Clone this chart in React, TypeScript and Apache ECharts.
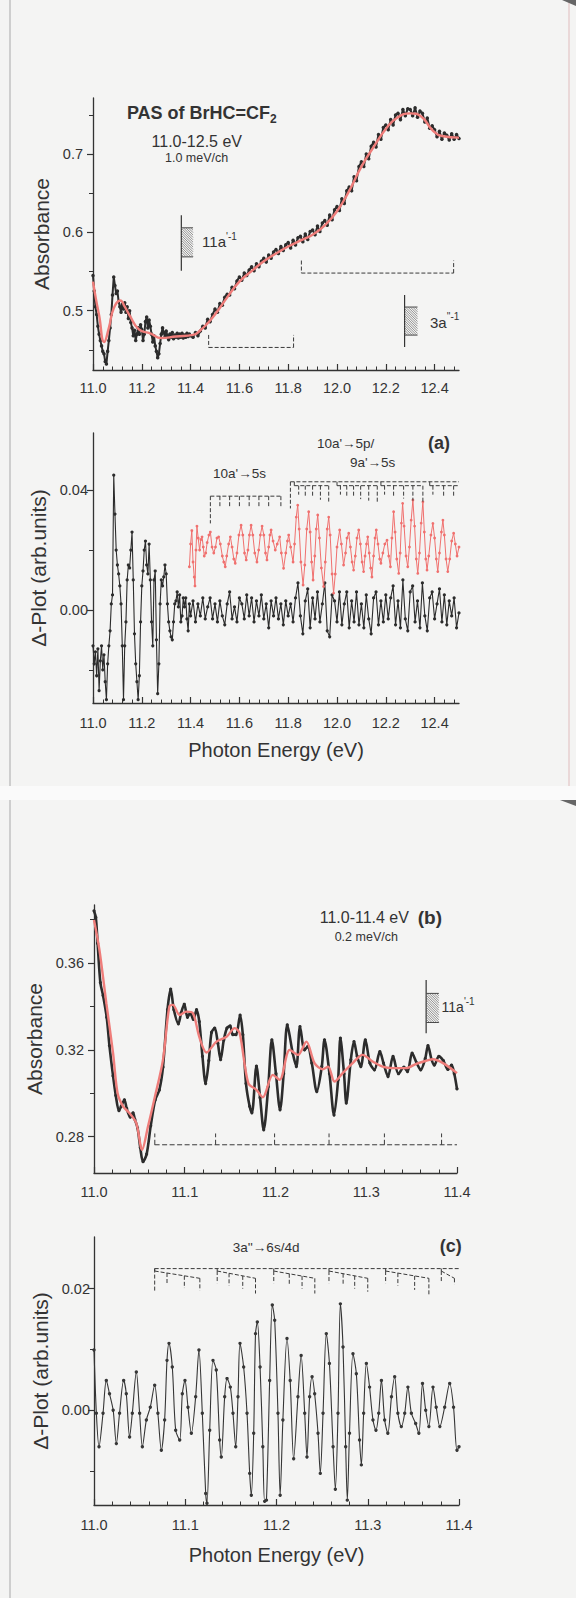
import React, { useEffect, useRef } from "react";
import * as echarts from "echarts";

const FONT = "'Liberation Sans', Arial, Helvetica, sans-serif";
const INK = "#2c2c2c";
const TXT = "#333333";
const RED = "#f0706e";
const FIT = "#ef7d7a";

// ---------- Panel 1: absorbance 11.0–12.5 eV (1.0 meV/ch) ----------
// channel grid 1: 11.000 … 11.400 eV, 5 meV apart
const absLowStart = 11.0;
const absLowStep = 0.005;
const absLow = [
  0.545, 0.525, 0.505, 0.495, 0.48, 0.47, 0.462, 0.455, 0.448, 0.445,
  0.435, 0.432, 0.448, 0.462, 0.478, 0.495, 0.52, 0.543, 0.532, 0.522,
  0.525, 0.512, 0.505, 0.498, 0.508, 0.502, 0.51, 0.498, 0.505, 0.49,
  0.5, 0.485, 0.478, 0.468, 0.475, 0.462, 0.47, 0.478, 0.47, 0.482,
  0.476, 0.462, 0.47, 0.486, 0.492, 0.478, 0.488, 0.48, 0.47, 0.46,
  0.468, 0.455, 0.448, 0.44, 0.445, 0.458, 0.47, 0.478, 0.472, 0.466,
  0.474, 0.468, 0.463, 0.47, 0.466, 0.472, 0.464, 0.469, 0.466, 0.471,
  0.465, 0.47, 0.466, 0.471, 0.465, 0.469, 0.466, 0.471, 0.467, 0.47,
  0.468,
];
// channel grid 2: 11.41 … 12.50 eV, 10 meV apart
const absHighStart = 11.41;
const absHighStep = 0.01;
const absHigh = [
  0.466, 0.472, 0.468, 0.474, 0.48, 0.478, 0.489, 0.486, 0.495, 0.502,
  0.498, 0.509, 0.507, 0.517, 0.521, 0.52, 0.53, 0.528, 0.538, 0.543,
  0.539, 0.548, 0.545, 0.552, 0.556, 0.551, 0.56, 0.556, 0.563, 0.567,
  0.562, 0.571, 0.567, 0.575, 0.578, 0.573, 0.582, 0.577, 0.584, 0.587,
  0.58, 0.59, 0.584, 0.593, 0.595, 0.588, 0.598, 0.591, 0.601, 0.603,
  0.597, 0.608, 0.601, 0.612, 0.615, 0.609, 0.622, 0.616, 0.629, 0.633,
  0.628, 0.643, 0.637, 0.653, 0.658, 0.653, 0.671, 0.666, 0.684, 0.69,
  0.684, 0.7, 0.694, 0.71, 0.715, 0.709, 0.725, 0.719, 0.734, 0.737,
  0.731, 0.744, 0.737, 0.75, 0.752, 0.744, 0.757, 0.749, 0.758, 0.757,
  0.749, 0.759, 0.747, 0.755, 0.752, 0.741, 0.746, 0.733, 0.736, 0.731,
  0.722, 0.729, 0.719, 0.727, 0.724, 0.718, 0.726, 0.719, 0.725, 0.72,
];
const absFit: [number, number][] = [
  [11.0, 0.537], [11.012, 0.515], [11.025, 0.494], [11.046, 0.46], [11.065, 0.478],
  [11.085, 0.503], [11.112, 0.513], [11.13, 0.505], [11.15, 0.494], [11.188, 0.476],
  [11.235, 0.471], [11.28, 0.465], [11.34, 0.467], [11.41, 0.469], [11.44, 0.475],
  [11.47, 0.484], [11.5, 0.495], [11.55, 0.517], [11.6, 0.537], [11.656, 0.552],
  [11.7, 0.563], [11.75, 0.573], [11.8, 0.582], [11.854, 0.59], [11.9, 0.597],
  [11.95, 0.609], [12.0, 0.627], [12.05, 0.653], [12.1, 0.684], [12.15, 0.709],
  [12.2, 0.732], [12.245, 0.746], [12.3, 0.752], [12.345, 0.748], [12.39, 0.731],
  [12.43, 0.723], [12.5, 0.721],
];

// ---------- Panel (a): Δ-plot 11.0–12.5 eV ----------
const dLow = [
  -0.012, -0.018, -0.014, -0.022, -0.013, -0.027, -0.017, -0.012, -0.02, -0.015,
  -0.024, -0.03, -0.018, -0.012, -0.007, 0.002, 0.005, 0.045, 0.032, 0.02,
  0.015, 0.012, 0.008, 0.002, -0.012, -0.03, -0.012, -0.004, 0.01, 0.015,
  0.014, 0.02, 0.026, 0.01, -0.008, -0.018, -0.024, -0.03, -0.022, -0.004,
  0.008, 0.013, 0.02, 0.023, 0.015, 0.012, 0.022, 0.01, -0.004, -0.012,
  0.01, 0.013, -0.01, -0.028, -0.018, 0.002, 0.01, 0.008, 0.011, 0.015,
  0.012, 0.002, -0.004, -0.007, -0.009, -0.01, -0.004, 0.002, 0.003, 0.006,
  0.001, 0.005, -0.004, -0.002, 0.004, 0.001, 0.004, -0.003, -0.007, 0.002,
  -0.002,
];
const dHigh = [
  0.003, -0.004, 0.002, -0.002, 0.004, -0.003, 0.001, 0.004, -0.003, 0.002,
  -0.004, 0.003, -0.002, -0.005, 0.002, 0.006, -0.003, 0.001, -0.004, 0.004,
  0.002, -0.003, 0.005, -0.002, 0.004, -0.004, 0.003, -0.002, 0.005, -0.003,
  0.002, -0.006, 0.003, -0.002, 0.004, -0.003, 0.002, -0.005, 0.003, -0.002,
  0.002, -0.004, 0.004, 0.009, -0.002, -0.008, 0.003, 0.007, -0.006, 0.004,
  -0.003, 0.006, -0.004, 0.002, 0.009, -0.007, -0.009, 0.005, 0.003, -0.004,
  0.006, -0.005, 0.002, 0.006, -0.006, 0.003, -0.004, 0.006, -0.005, 0.002,
  -0.006, 0.005, -0.003, -0.008, 0.004, 0.006, -0.005, 0.003, -0.004, 0.005,
  -0.003, 0.004, 0.008, -0.005, 0.003, -0.006, 0.01, -0.003, -0.007, 0.006,
  0.008, -0.004, 0.003, -0.006, 0.009, -0.002, -0.007, 0.004, 0.006, -0.003,
  0.002, 0.007, -0.004, 0.005, -0.005, 0.003, -0.002, 0.004, -0.006, -0.001,
];
const dRed: [number, number][] = [
  [11.395, 0.0144], [11.4, 0.022], [11.405, 0.0265], [11.41, 0.016], [11.415, 0.011], [11.418, 0.008],
  [11.422, 0.02], [11.426, 0.028], [11.431, 0.024], [11.437, 0.02], [11.442, 0.0235], [11.447, 0.0244],
  [11.452, 0.021], [11.456, 0.018], [11.462, 0.019], [11.468, 0.0225], [11.475, 0.025], [11.481, 0.026],
  [11.488, 0.021], [11.495, 0.019], [11.502, 0.021], [11.508, 0.024], [11.515, 0.0244], [11.522, 0.022],
  [11.53, 0.018], [11.536, 0.016], [11.542, 0.0144], [11.548, 0.018], [11.556, 0.022], [11.563, 0.0244],
  [11.57, 0.021], [11.577, 0.017], [11.583, 0.0156], [11.59, 0.019], [11.598, 0.025], [11.607, 0.0283],
  [11.614, 0.025], [11.621, 0.019], [11.628, 0.0167], [11.635, 0.02], [11.641, 0.025], [11.648, 0.0283],
  [11.655, 0.025], [11.663, 0.019], [11.672, 0.016], [11.679, 0.02], [11.686, 0.025], [11.693, 0.028],
  [11.7, 0.025], [11.707, 0.019], [11.713, 0.0167], [11.72, 0.021], [11.725, 0.025], [11.73, 0.0267],
  [11.738, 0.023], [11.747, 0.02], [11.755, 0.022], [11.765, 0.0244], [11.772, 0.019], [11.781, 0.0139],
  [11.79, 0.019], [11.797, 0.023], [11.802, 0.025], [11.81, 0.021], [11.82, 0.016], [11.826, 0.022],
  [11.833, 0.031], [11.839, 0.035], [11.845, 0.027], [11.852, 0.016], [11.861, 0.0083], [11.868, 0.015],
  [11.876, 0.027], [11.884, 0.0328], [11.89, 0.026], [11.896, 0.016], [11.902, 0.01], [11.909, 0.018],
  [11.915, 0.027], [11.921, 0.0317], [11.928, 0.024], [11.936, 0.014], [11.945, 0.0078], [11.952, 0.016],
  [11.96, 0.027], [11.966, 0.031], [11.972, 0.025], [11.98, 0.012], [11.986, 0.0056], [11.993, 0.012],
  [12.0, 0.021], [12.011, 0.0267], [12.018, 0.022], [12.027, 0.015], [12.035, 0.019], [12.041, 0.024],
  [12.048, 0.0256], [12.055, 0.021], [12.062, 0.016], [12.068, 0.0133], [12.075, 0.018], [12.082, 0.024],
  [12.089, 0.0267], [12.096, 0.022], [12.103, 0.016], [12.109, 0.0128], [12.115, 0.018], [12.121, 0.022],
  [12.126, 0.0244], [12.132, 0.019], [12.138, 0.014], [12.143, 0.011], [12.15, 0.018], [12.156, 0.024],
  [12.161, 0.0267], [12.168, 0.022], [12.175, 0.017], [12.18, 0.0156], [12.188, 0.019], [12.196, 0.022],
  [12.205, 0.0233], [12.212, 0.018], [12.219, 0.0144], [12.225, 0.024], [12.232, 0.0328], [12.238, 0.026],
  [12.245, 0.017], [12.253, 0.0122], [12.259, 0.019], [12.264, 0.029], [12.269, 0.0356], [12.275, 0.028],
  [12.283, 0.018], [12.29, 0.0144], [12.297, 0.021], [12.304, 0.03], [12.311, 0.0367], [12.318, 0.028],
  [12.325, 0.017], [12.331, 0.0122], [12.338, 0.019], [12.345, 0.029], [12.352, 0.0361], [12.358, 0.026],
  [12.364, 0.017], [12.369, 0.0133], [12.376, 0.018], [12.385, 0.025], [12.393, 0.0289], [12.4, 0.024],
  [12.407, 0.017], [12.413, 0.0128], [12.42, 0.019], [12.428, 0.026], [12.434, 0.03], [12.44, 0.025],
  [12.447, 0.017], [12.454, 0.0128], [12.462, 0.017], [12.47, 0.023], [12.478, 0.0256], [12.485, 0.022],
  [12.492, 0.018], [12.5, 0.021],
];

// ---------- Panel (b): absorbance 11.0–11.4 eV (0.2 meV/ch) ----------
const absB: [number, number][] = [
  [11.0, 0.384], [11.002, 0.381], [11.004, 0.369], [11.007, 0.351], [11.01, 0.345], [11.014, 0.335],
  [11.017, 0.322], [11.021, 0.308], [11.024, 0.299], [11.0275, 0.292], [11.03, 0.294], [11.0335, 0.297],
  [11.036, 0.293], [11.04, 0.289], [11.043, 0.291], [11.045, 0.288], [11.048, 0.284], [11.051, 0.275],
  [11.054, 0.2685], [11.058, 0.272], [11.0625, 0.285], [11.0675, 0.297], [11.072, 0.3015], [11.076, 0.312],
  [11.081, 0.3385], [11.0845, 0.348], [11.088, 0.3385], [11.093, 0.332], [11.096, 0.337], [11.0995, 0.341],
  [11.103, 0.335], [11.106, 0.337], [11.1095, 0.334], [11.113, 0.3385], [11.116, 0.333], [11.1195, 0.317],
  [11.123, 0.3045], [11.1265, 0.315], [11.1295, 0.328], [11.133, 0.33], [11.1365, 0.323], [11.1395, 0.3155],
  [11.143, 0.3245], [11.1465, 0.33], [11.15, 0.331], [11.153, 0.327], [11.1565, 0.327], [11.161, 0.336],
  [11.164, 0.327], [11.1675, 0.3045], [11.1715, 0.294], [11.174, 0.291], [11.179, 0.3125], [11.183, 0.298],
  [11.187, 0.2832], [11.192, 0.303], [11.196, 0.3246], [11.2005, 0.309], [11.205, 0.2924], [11.209, 0.309],
  [11.213, 0.3315], [11.219, 0.3185], [11.223, 0.3123], [11.227, 0.3307], [11.232, 0.32], [11.2355, 0.3215],
  [11.24, 0.3139], [11.2455, 0.3008], [11.251, 0.3123], [11.254, 0.3246], [11.2595, 0.309], [11.2645, 0.29],
  [11.269, 0.3062], [11.2715, 0.3254], [11.2755, 0.309], [11.278, 0.2955], [11.283, 0.3154], [11.2865, 0.3238],
  [11.29, 0.317], [11.294, 0.3123], [11.299, 0.3246], [11.304, 0.3139], [11.309, 0.3108], [11.315, 0.3192],
  [11.319, 0.3139], [11.324, 0.3077], [11.3295, 0.317], [11.3355, 0.309], [11.3415, 0.312], [11.3455, 0.31],
  [11.3505, 0.3185], [11.3555, 0.314], [11.36, 0.3108], [11.365, 0.316], [11.368, 0.322], [11.372, 0.3155],
  [11.375, 0.313], [11.38, 0.317], [11.385, 0.315], [11.39, 0.311], [11.394, 0.313], [11.397, 0.309],
  [11.4, 0.302],
];
const fitB: [number, number][] = [
  [11.0, 0.3798], [11.006, 0.366], [11.0136, 0.3415], [11.021, 0.3185], [11.026, 0.3], [11.032, 0.294],
  [11.039, 0.2909], [11.0466, 0.2863], [11.053, 0.274], [11.0595, 0.2847], [11.0668, 0.2978], [11.076, 0.3154],
  [11.083, 0.34], [11.087, 0.3407], [11.0944, 0.336], [11.1017, 0.3376], [11.109, 0.3369], [11.116, 0.326],
  [11.124, 0.3188], [11.135, 0.3238], [11.146, 0.326], [11.155, 0.33], [11.1605, 0.3277], [11.17, 0.3047],
  [11.179, 0.3016], [11.186, 0.2982], [11.197, 0.3085], [11.2046, 0.3062], [11.2156, 0.32], [11.2248, 0.3177],
  [11.234, 0.3238], [11.243, 0.3139], [11.252, 0.3111], [11.258, 0.3123], [11.265, 0.3054], [11.274, 0.3093],
  [11.285, 0.3139], [11.296, 0.3177], [11.307, 0.3146], [11.318, 0.3123], [11.3295, 0.3116], [11.344, 0.3116],
  [11.355, 0.3136], [11.366, 0.315], [11.3735, 0.3157], [11.3846, 0.3139], [11.4, 0.3093],
];

// ---------- Panel (c): Δ-plot 11.0–11.4 eV ----------
const dC: [number, number][] = [
  [11.0, 0.0099], [11.0026, -0.0005], [11.0055, -0.006], [11.0099, -0.0005], [11.0135, 0.0049], [11.017, 0.0027],
  [11.021, 0.0], [11.0245, -0.0055], [11.028, -0.0005], [11.0325, 0.0049], [11.0354, 0.0027], [11.039, -0.0044],
  [11.042, -0.0005], [11.0464, 0.0063], [11.05, -0.0005], [11.053, -0.006], [11.0574, -0.0016], [11.0617, 0.0005],
  [11.0665, 0.0041], [11.07, -0.0005], [11.0738, -0.0066], [11.0774, -0.0016], [11.08, 0.0082], [11.0822, 0.011],
  [11.0858, 0.0071], [11.0895, -0.0033], [11.0939, -0.0049], [11.0968, 0.0027], [11.0997, 0.0049], [11.103, 0.0005],
  [11.1067, -0.0038], [11.1114, 0.0022], [11.115, 0.0099], [11.1187, -0.0005], [11.1224, -0.0137], [11.1238, -0.0153],
  [11.1268, -0.0033], [11.1304, 0.0082], [11.134, 0.0066], [11.1377, -0.0049], [11.1395, -0.0077], [11.1432, 0.0022],
  [11.1458, 0.0052], [11.1494, 0.0038], [11.1523, -0.0005], [11.1553, -0.006], [11.1578, 0.0022], [11.16, 0.011],
  [11.164, 0.0071], [11.1677, -0.0005], [11.1706, -0.0104], [11.1724, -0.014], [11.175, -0.0038], [11.177, 0.0126],
  [11.179, 0.0145], [11.182, 0.0071], [11.185, -0.006], [11.187, -0.015], [11.189, -0.0148], [11.1925, 0.0049],
  [11.1954, 0.0173], [11.198, 0.0148], [11.2016, -0.0005], [11.204, -0.014], [11.207, -0.0016], [11.2115, 0.0118],
  [11.215, 0.0049], [11.2188, -0.008], [11.2235, 0.0022], [11.227, 0.009], [11.2309, -0.0005], [11.2334, -0.0077],
  [11.2363, 0.0022], [11.239, 0.0055], [11.2418, 0.0027], [11.2455, -0.0038], [11.248, -0.0104], [11.251, -0.0005],
  [11.2546, 0.0126], [11.258, 0.0077], [11.262, -0.006], [11.2645, -0.013], [11.2674, -0.0005], [11.27, 0.0175],
  [11.2729, 0.0104], [11.2758, -0.006], [11.2776, -0.0148], [11.28, -0.0038], [11.2838, 0.0093], [11.2875, 0.006],
  [11.291, -0.0049], [11.293, -0.009], [11.2955, -0.0005], [11.2985, 0.0077], [11.302, 0.0038], [11.3057, -0.0016],
  [11.309, -0.0033], [11.312, -0.0005], [11.315, 0.0049], [11.3185, -0.0016], [11.322, -0.0038], [11.326, 0.0022],
  [11.3295, 0.0055], [11.333, -0.0005], [11.3368, -0.0027], [11.3405, -0.0005], [11.344, 0.0038], [11.3478, -0.0005],
  [11.3525, -0.0022], [11.356, -0.0038], [11.36, 0.0044], [11.3635, 0.0], [11.367, -0.0027], [11.3715, 0.0038],
  [11.375, 0.0005], [11.379, -0.0027], [11.3843, 0.0005], [11.3898, 0.0044], [11.394, 0.0005], [11.3978, -0.0066],
  [11.4, -0.006],
];

// ---------- tick values ----------
const xMajorWide = [11.0, 11.2, 11.4, 11.6, 11.8, 12.0, 12.2, 12.4];
const xMajorNarrow = [11.0, 11.1, 11.2, 11.3, 11.4];
const yMajorAbsA = [0.5, 0.6, 0.7];
const yMinorAbsA = [0.45, 0.55, 0.65, 0.75];
const yMajorDA = [0.0, 0.04];
const yMinorDA = [-0.02, 0.02];
const yMajorAbsB = [0.28, 0.32, 0.36];
const yMinorAbsB = [0.3, 0.34, 0.38];
const yMajorDC = [0.0, 0.02];
const yMinorDC = [-0.01, 0.01];

const xMinorWide: number[] = [];
for (let i = 1; i <= 37; i++) if (i % 5 !== 0) xMinorWide.push(+(11 + i * 0.04).toFixed(2));
const xMinorNarrow: number[] = [];
for (let i = 1; i <= 19; i++) if (i % 5 !== 0) xMinorNarrow.push(+(11 + i * 0.02).toFixed(2));

// ---------- annotation marks (data units) ----------
// hatched ionisation markers: [E, lineTop, lineBottom, Eright, boxTop, boxBottom]
const hatchTop = [
  [11.362, 0.622, 0.551, 11.41, 0.6058, 0.5687],
  [12.277, 0.52, 0.4536, 12.33, 0.5046, 0.4688],
];
const hatchB = [[11.366, 0.3522, 0.3277, 11.38, 0.346, 0.3326]];
// brackets in panel 1: [Estart, Eend, yTop, yBottom]
const bracketsTop = [
  [11.474, 11.822, 0.469, 0.453],
  [11.854, 12.478, 0.564, 0.548],
];
// comb 10a'->5s
const comb5s = { from: 11.481, to: 11.77, y: 0.038, lead: 0.0289, tickBottom: 0.0345 };
const comb5sTicks = [11.52, 11.56, 11.6, 11.64, 11.68, 11.72, 11.77];
// comb 10a'->5p / 9a'->5s
const comb5p = { from: 11.809, to: 12.5, y: 0.0428, lead: 0.0339, sub: 0.0415 };
const comb5pSubs = [[11.825, 11.966], [12.0, 12.165], [12.18, 12.352], [12.38, 12.5]];
const comb5pTicks = [
  [11.843, 0.0385], [11.87, 0.038], [11.9, 0.0375], [11.932, 0.0368], [11.966, 0.0362],
  [12.014, 0.0385], [12.04, 0.038], [12.068, 0.0375], [12.097, 0.037], [12.13, 0.0365], [12.165, 0.036],
  [12.195, 0.0385], [12.232, 0.038], [12.273, 0.0372], [12.311, 0.0365], [12.352, 0.036],
  [12.393, 0.0385], [12.437, 0.038], [12.478, 0.0375],
];
// panel (b) dashed progression
const progB = { from: 11.0668, to: 11.4, y: 0.2763, top: 0.2815 };
const progBTicks = [11.067, 11.134, 11.199, 11.259, 11.32, 11.383];
// panel (c) comb 3a''->6s/4d
const combC = { from: 11.0665, to: 11.4, y: 0.0233, lead: 0.0195, subTop: 0.0229, subEnd: 0.0217 };
const combCGroups = [
  { start: 11.0665, ticks: [[11.08, 0.0207], [11.099, 0.0201], [11.116, 0.0197]] },
  { start: 11.135, ticks: [[11.135, 0.0209], [11.148, 0.0205], [11.163, 0.02], [11.177, 0.0192]] },
  { start: 11.197, ticks: [[11.197, 0.0209], [11.214, 0.0205], [11.228, 0.02], [11.242, 0.0192]] },
  { start: 11.2575, ticks: [[11.2575, 0.0209], [11.273, 0.0205], [11.2857, 0.02], [11.3, 0.0195]] },
  { start: 11.3196, ticks: [[11.3196, 0.0209], [11.333, 0.0205], [11.3514, 0.0198], [11.367, 0.0188]] },
  { start: 11.3806, ticks: [[11.3806, 0.0212], [11.395, 0.0207]] },
];

// ---------- text notes (data units per panel) ----------
const notes = [
  { p: 0, e: 11.139, v: 0.7528, text: "{b|PAS of BrHC=CF}{bs|2}", size: 18 },
  { p: 0, e: 11.24, v: 0.7157, text: "11.0-12.5 eV", size: 16 },
  { p: 0, e: 11.295, v: 0.6953, text: "1.0 meV/ch", size: 12.5 },
  { p: 0, e: 11.447, v: 0.5879, text: "{n|11a}{s|'-1}", size: 15 },
  { p: 0, e: 12.381, v: 0.4855, text: "{n|3a}{s|''-1}", size: 15 },
  { p: 1, e: 12.373, v: 0.0557, text: "(a)", size: 18, bold: true },
  { p: 1, e: 11.918, v: 0.0557, text: "10a'\u21925p/", size: 13.5 },
  { p: 1, e: 12.053, v: 0.0493, text: "9a'\u21925s", size: 13.5 },
  { p: 1, e: 11.492, v: 0.0457, text: "10a'\u21925s", size: 13.5 },
  { p: 2, e: 11.2487, v: 0.3811, text: "11.0-11.4 eV", size: 16 },
  { p: 2, e: 11.3567, v: 0.3811, text: "(b)", size: 19, bold: true },
  { p: 2, e: 11.2652, v: 0.372, text: "0.2 meV/ch", size: 12.5 },
  { p: 2, e: 11.383, v: 0.3399, text: "{n|11a}{s|'-1}", size: 14 },
  { p: 3, e: 11.152, v: 0.0268, text: "3a''\u21926s/4d", size: 13.5 },
  { p: 3, e: 11.379, v: 0.0271, text: "(c)", size: 18, bold: true },
];

// ---------- panel layout ----------
const panels = [
  { grid: { left: 93, top: 98, width: 366, height: 272 }, x: [11, 12.5], y: [0.4242, 0.7716],
    xMajor: xMajorWide, xMinor: xMinorWide, yMajor: yMajorAbsA, yMinor: yMinorAbsA, yDigits: 1,
    yName: "Absorbance", yGap: 28, yMargin: 10, xName: "", xGap: 0, xMargin: 10 },
  { grid: { left: 93, top: 433, width: 366, height: 270 }, x: [11, 12.5], y: [-0.0311, 0.0591],
    xMajor: xMajorWide, xMinor: xMinorWide, yMajor: yMajorDA, yMinor: yMinorDA, yDigits: 2,
    yName: "\u0394-Plot (arb.units)", yGap: 31, yMargin: 5, xName: "Photon Energy (eV)", xGap: 37, xMargin: 12 },
  { grid: { left: 94, top: 905, width: 363, height: 268 }, x: [11, 11.4], y: [0.2633, 0.3867],
    xMajor: xMajorNarrow, xMinor: xMinorNarrow, yMajor: yMajorAbsB, yMinor: yMinorAbsB, yDigits: 2,
    yName: "Absorbance", yGap: 36, yMargin: 10, xName: "", xGap: 0, xMargin: 11 },
  { grid: { left: 94, top: 1237, width: 365, height: 268 }, x: [11, 11.4], y: [-0.0156, 0.0285],
    xMajor: xMajorNarrow, xMinor: xMinorNarrow, yMajor: yMajorDC, yMinor: yMinorDC, yDigits: 2,
    yName: "\u0394-Plot (arb.units)", yGap: 30, yMargin: 4, xName: "Photon Energy (eV)", xGap: 40, xMargin: 12 },
];

function gridPoints(start: number, step: number, vals: number[]) {
  return vals.map((v, i) => [+(start + i * step).toFixed(4), v]);
}

function segRender(dash: number[] | null, width: number) {
  return (params: any, api: any) => {
    const a = api.coord([api.value(0), api.value(1)]);
    const b = api.coord([api.value(2), api.value(3)]);
    return {
      type: "line",
      shape: { x1: a[0], y1: a[1], x2: b[0], y2: b[1] },
      style: { stroke: "#3a3a3a", lineWidth: width, lineDash: dash || undefined },
    };
  };
}

function hatchRender(params: any, api: any) {
  const x = api.value(0), yt = api.value(1), yb = api.value(2);
  const xr = api.value(3), bt = api.value(4), bb = api.value(5);
  const pT = api.coord([x, yt]);
  const pB = api.coord([x, yb]);
  const q1 = api.coord([x, bt]);
  const q2 = api.coord([xr, bb]);
  const x0 = q1[0], y0 = q1[1], w = q2[0] - q1[0], h = q2[1] - q1[1];
  const children: any[] = [
    { type: "line", shape: { x1: pT[0], y1: pT[1], x2: pB[0], y2: pB[1] }, style: { stroke: "#333", lineWidth: 1.2 } },
    { type: "line", shape: { x1: x0, y1: y0, x2: x0 + w, y2: y0 }, style: { stroke: "#444", lineWidth: 1 } },
    { type: "line", shape: { x1: x0, y1: y0 + h, x2: x0 + w, y2: y0 + h }, style: { stroke: "#444", lineWidth: 1 } },
  ];
  for (let c = -w; c < h; c += 2.4) {
    const sx = Math.max(0, -c);
    const ex = Math.min(w, h - c);
    if (ex > sx) {
      children.push({ type: "line", shape: { x1: x0 + sx, y1: y0 + sx + c, x2: x0 + ex, y2: y0 + ex + c },
        style: { stroke: "#666", lineWidth: 0.7 } });
    }
  }
  return { type: "group", children };
}

function buildSegments() {
  const top: number[][] = [];
  bracketsTop.forEach(([e1, e2, yt, yb]) => {
    top.push([e1, yt, e1, yb], [e1, yb, e2, yb], [e2, yb, e2, yt]);
  });
  const da: number[][] = [];
  da.push([comb5s.from, comb5s.y, comb5s.to, comb5s.y], [comb5s.from, comb5s.y, comb5s.from, comb5s.lead]);
  comb5sTicks.forEach((e) => da.push([e, comb5s.y, e, comb5s.tickBottom]));
  da.push([comb5p.from, comb5p.y, comb5p.to, comb5p.y], [comb5p.from, comb5p.y, comb5p.from, comb5p.lead]);
  comb5pSubs.forEach(([a, b]) => da.push([a, comb5p.y, a, comb5p.sub], [a, comb5p.sub, b, comb5p.sub]));
  comb5pTicks.forEach(([e, bot]) => da.push([e, comb5p.sub, e, bot]));
  const b: number[][] = [];
  b.push([progB.from, progB.y, progB.to, progB.y]);
  progBTicks.forEach((e) => b.push([e, progB.y, e, progB.top]));
  const c: number[][] = [];
  c.push([combC.from, combC.y, combC.to, combC.y], [combC.from, combC.y, combC.from, combC.lead]);
  combCGroups.forEach((g) => {
    const last = g.ticks[g.ticks.length - 1][0];
    c.push([g.start, combC.y, g.start, combC.subTop], [g.start, combC.subTop, last, combC.subEnd]);
    g.ticks.forEach(([e, bot]) => {
      const t = last > g.start ? (e - g.start) / (last - g.start) : 0;
      const topY = combC.subTop + (combC.subEnd - combC.subTop) * t;
      c.push([e, topY, e, bot]);
    });
  });
  return [top, da, b, c];
}

function buildOption() {
  const xAxis: any[] = [];
  const yAxis: any[] = [];
  panels.forEach((p, i) => {
    xAxis.push({
      type: "value", gridIndex: i, position: "bottom", min: p.x[0], max: p.x[1],
      name: p.xName, nameLocation: "middle", nameGap: p.xGap,
      nameTextStyle: { fontFamily: FONT, fontSize: 20, color: TXT },
      axisLine: { onZero: false, lineStyle: { color: "#333", width: 1.3 } },
      axisTick: { inside: true, length: 6, customValues: p.xMajor, lineStyle: { color: "#333", width: 1.2 } },
      axisLabel: { customValues: p.xMajor, formatter: (v: number) => v.toFixed(1), margin: p.xMargin,
        fontFamily: FONT, fontSize: 14.5, color: TXT },
      splitLine: { show: false },
    });
    xAxis.push({
      type: "value", gridIndex: i, position: "bottom", min: p.x[0], max: p.x[1],
      axisLine: { show: false, onZero: false },
      axisTick: { inside: true, length: 3.5, customValues: p.xMinor, lineStyle: { color: "#333", width: 1 } },
      axisLabel: { show: false }, splitLine: { show: false },
    });
    yAxis.push({
      type: "value", gridIndex: i, position: "left", min: p.y[0], max: p.y[1],
      name: p.yName, nameLocation: "middle", nameGap: p.yGap,
      nameTextStyle: { fontFamily: FONT, fontSize: 21, color: TXT },
      axisLine: { show: true, onZero: false, lineStyle: { color: "#333", width: 1.3 } },
      axisTick: { show: true, inside: false, length: 6, customValues: p.yMajor, lineStyle: { color: "#333", width: 1.2 } },
      axisLabel: { customValues: p.yMajor, formatter: (v: number) => v.toFixed(p.yDigits), margin: p.yMargin,
        fontFamily: FONT, fontSize: 14.5, color: TXT },
      splitLine: { show: false },
    });
    yAxis.push({
      type: "value", gridIndex: i, position: "left", offset: 0, min: p.y[0], max: p.y[1],
      axisLine: { show: false, onZero: false },
      axisTick: { show: true, inside: false, length: 4, customValues: p.yMinor, lineStyle: { color: "#333", width: 1 } },
      axisLabel: { show: false }, splitLine: { show: false },
    });
  });

  const segs = buildSegments();
  const dotLine = (data: any, xi: number, color: string, lw: number, sym: number, z = 2, smooth: any = false) => ({
    type: "line", xAxisIndex: xi, yAxisIndex: xi, data, silent: true, z, smooth,
    symbol: "circle", symbolSize: sym, showSymbol: true,
    lineStyle: { color, width: lw }, itemStyle: { color },
  });
  const smoothLine = (data: any, xi: number, smooth: number) => ({
    type: "line", xAxisIndex: xi, yAxisIndex: xi, data, silent: true, z: 3,
    symbol: "none", smooth, lineStyle: { color: FIT, width: 2.4 },
  });
  const segSeries = (data: any, xi: number, dash: number[] | null) => ({
    type: "custom", xAxisIndex: xi, yAxisIndex: xi, data, silent: true, z: 4,
    encode: { x: [0, 2], y: [1, 3] }, renderItem: segRender(dash, 1),
  });
  const hatchSeries = (data: any, xi: number) => ({
    type: "custom", xAxisIndex: xi, yAxisIndex: xi, data, silent: true, z: 4,
    encode: { x: [0, 3], y: [1, 2, 4, 5] }, renderItem: hatchRender,
  });

  const series: any[] = [
    dotLine([...gridPoints(absLowStart, absLowStep, absLow), ...gridPoints(absHighStart, absHighStep, absHigh)], 0, INK, 2, 3.5),
    smoothLine(absFit, 0, 0.5),
    hatchSeries(hatchTop, 0),
    segSeries(segs[0], 0, [4, 2]),
    dotLine([...gridPoints(absLowStart, absLowStep, dLow), ...gridPoints(absHighStart, absHighStep, dHigh)], 2, INK, 1.1, 3.2),
    dotLine(dRed, 2, RED, 1, 2.8, 3),
    segSeries(segs[1], 2, [4, 2]),
    dotLine(absB, 4, INK, 2.6, 3.2, 2, 0.3),
    smoothLine(fitB, 4, 0.3),
    hatchSeries(hatchB, 4),
    segSeries(segs[2], 4, [5, 2.5]),
    dotLine(dC, 6, "#363636", 1.1, 3.4, 2, 0.3),
    segSeries(segs[3], 6, [4, 2]),
  ];

  return {
    animation: false,
    backgroundColor: "#f4f4f3",
    grid: panels.map((p) => ({ ...p.grid, containLabel: false })),
    xAxis, yAxis, series,
  };
}

function buildGraphics(chart: any) {
  const els: any[] = [
    { type: "rect", shape: { x: 0, y: 786, width: 576, height: 14 }, style: { fill: "#fafafa" }, z: 0 },
    { type: "line", shape: { x1: 10, y1: 0, x2: 10, y2: 786 }, style: { stroke: "#c2c2c2", lineWidth: 1.5 } },
    { type: "line", shape: { x1: 10, y1: 800, x2: 10, y2: 1598 }, style: { stroke: "#c2c2c2", lineWidth: 1.5 } },
    { type: "line", shape: { x1: 569, y1: 0, x2: 569, y2: 786 }, style: { stroke: "#ead8d8", lineWidth: 2 } },
    { type: "polygon", shape: { points: [[562, 0], [576, 0], [576, 6]] }, style: { fill: "#666" } },
    { type: "polygon", shape: { points: [[560, 800], [576, 800], [576, 806]] }, style: { fill: "#666" } },
  ];
  notes.forEach((n: any) => {
    const px = chart.convertToPixel({ xAxisIndex: n.p * 2, yAxisIndex: n.p * 2 }, [n.e, n.v]);
    const style: any = {
      legacy: false,
      text: n.text, fill: TXT,
      fontFamily: FONT, fontSize: n.size, fontWeight: n.bold ? "bold" : "normal",
      align: "left", verticalAlign: "middle",
    };
    if (n.text.indexOf("{") >= 0) {
      style.rich = {
        b: { fontFamily: FONT, fontSize: 18, fontWeight: "bold", fill: TXT, lineHeight: 24 },
        bs: { fontFamily: FONT, fontSize: 12, fontWeight: "bold", fill: TXT, verticalAlign: "bottom" },
        n: { fontFamily: FONT, fontSize: n.size, fill: TXT, lineHeight: n.size + 6 },
        s: { fontFamily: FONT, fontSize: 10, fill: TXT, verticalAlign: "top" },
      };
    }
    els.push({ type: "text", x: px[0], y: px[1], z: 10, style });
  });
  return els;
}

export default function App() {
  const ref = useRef<HTMLDivElement>(null);
  useEffect(() => {
    if (!ref.current) return;
    const chart = echarts.init(ref.current, undefined, { renderer: "svg", width: 576, height: 1598 });
    chart.setOption(buildOption());
    chart.setOption({ graphic: buildGraphics(chart) });
    return () => chart.dispose();
  }, []);
  return <div ref={ref} style={{ position: "absolute", left: 0, top: 0, width: 576, height: 1598 }} />;
}
